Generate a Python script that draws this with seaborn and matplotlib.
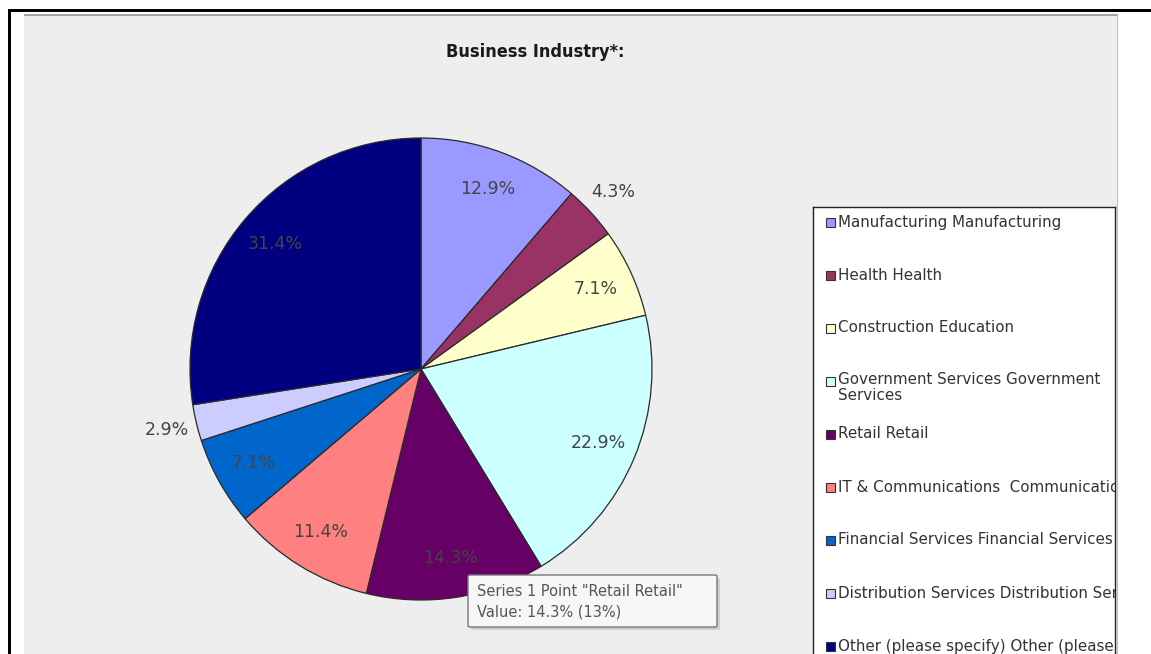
import numpy as np
import matplotlib
matplotlib.use("Agg")
import matplotlib.pyplot as plt
from matplotlib.patches import Rectangle, FancyBboxPatch
import seaborn as sns

# Survey answers, in the order the slices run clockwise from 12 o'clock
categories = [
    "Manufacturing Manufacturing",
    "Health Health",
    "Construction Education",
    "Government Services Government\nServices",
    "Retail Retail",
    "IT & Communications  Communications",
    "Financial Services Financial Services",
    "Distribution Services Distribution Services",
    "Other (please specify) Other (please specify)",
]
percent_values = [12.9, 4.3, 7.1, 22.9, 14.3, 11.4, 7.1, 2.9, 31.4]
slice_colors = ["#9999FF", "#993366", "#FFFFCC", "#CCFFFF", "#660066",
                "#FF8080", "#0066CC", "#CCCCFF", "#000080"]
title_text = "Business Industry*:"
tooltip_lines = ['Series 1 Point "Retail Retail"', "Value: 14.3% (13%)"]

sns.set_theme(style="white")
plt.rcParams["font.family"] = ["DejaVu Sans"]

W, H = 1151, 654
fig = plt.figure(figsize=(W / 100, H / 100), dpi=100)
fig.patch.set_facecolor("white")


def fx(x):
    return x / W


def fy(y):
    return 1 - y / H


# outer frame lines (top and left)
fig.add_artist(Rectangle((fx(8), fy(12)), fx(W - 8), 3 / H, transform=fig.transFigure,
                         facecolor="black", edgecolor="none", zorder=-3))
fig.add_artist(Rectangle((fx(8), 0), 2.5 / W, fy(12), transform=fig.transFigure,
                         facecolor="black", edgecolor="none", zorder=-3))

# grey chart panel
fig.add_artist(Rectangle((fx(24), 0), fx(1118 - 24), fy(14), transform=fig.transFigure,
                         facecolor="#EEEEEE", edgecolor="none", zorder=-2))
fig.add_artist(Rectangle((fx(24), fy(16)), fx(1118 - 24), 2 / H, transform=fig.transFigure,
                         facecolor="#9AA9A3", edgecolor="none", zorder=-1))
fig.add_artist(Rectangle((fx(1117), 0), 1.2 / W, fy(14), transform=fig.transFigure,
                         facecolor="#A9C4CC", edgecolor="none", zorder=-1))

fig.text(fx(535), fy(52), title_text, ha="center", va="center", fontsize=13,
         fontweight="bold", fontstretch="condensed", color="#1a1a1a")

# pie
cx, cy, R = 421, 369, 231
half = 1.2 * R
ax = fig.add_axes([fx(cx - half), fy(cy + half), 2 * half / W, 2 * half / H])
ax.set_facecolor("none")
wedges, _ = ax.pie(percent_values, colors=slice_colors, startangle=90, counterclock=False,
                   radius=1.0,
                   wedgeprops=dict(edgecolor="#2a2a2a", linewidth=0.9))
ax.set_xlim(-1.2, 1.2)
ax.set_ylim(-1.2, 1.2)
ax.set_aspect("equal")
ax.axis("off")

for w, v in zip(wedges, percent_values):
    mid = np.deg2rad((w.theta1 + w.theta2) / 2)
    r = 1.13 if v < 5 else 0.83
    ax.text(r * np.cos(mid), r * np.sin(mid), f"{v:.1f}%", ha="center", va="center",
            fontsize=12.5, color="#444444", zorder=5)

# legend box, cut off by the panel edge on the right
lx0, ly0, lx1, ly1 = 813, 207, 1115, 654
lax = fig.add_axes([fx(lx0), fy(ly1), (lx1 - lx0) / W, (ly1 - ly0) / H])
lax.set_xlim(lx0, lx1)
lax.set_ylim(ly1, ly0)
lax.set_facecolor("white")
lax.set_xticks([])
lax.set_yticks([])
for side in ["left", "top", "right"]:
    lax.spines[side].set_visible(True)
    lax.spines[side].set_color("#222222")
    lax.spines[side].set_linewidth(1.0)
lax.spines["bottom"].set_visible(False)

for i, (name, col) in enumerate(zip(categories, slice_colors)):
    y = 222 + 53 * i
    lax.add_patch(Rectangle((825.5, y - 4.5), 9, 9, facecolor=col, edgecolor="#333333",
                            linewidth=0.8))
    if "\n" in name:
        t = lax.text(838, y - 9, name, ha="left", va="top", fontsize=10.9,
                     color="#333333", linespacing=1.12)
    else:
        t = lax.text(838, y, name, ha="left", va="center", fontsize=10.9,
                     color="#333333")
    t.set_clip_on(True)
    t.set_clip_box(lax.bbox)

# tooltip
tx0, ty0, tx1, ty1 = 468, 575, 717, 627
fig.add_artist(FancyBboxPatch((fx(tx0 + 3), fy(ty1 + 3)), fx(tx1 - tx0), (ty1 - ty0) / H,
                              boxstyle="round,pad=0,rounding_size=0.002",
                              transform=fig.transFigure, facecolor="#BBBBBB",
                              edgecolor="none", alpha=0.6, zorder=9))
fig.add_artist(FancyBboxPatch((fx(tx0), fy(ty1)), fx(tx1 - tx0), (ty1 - ty0) / H,
                              boxstyle="round,pad=0,rounding_size=0.002",
                              transform=fig.transFigure, facecolor="#F7F7FA",
                              edgecolor="#767676", linewidth=1.0, zorder=10))
fig.text(fx(477), fy(591), tooltip_lines[0], ha="left", va="center", fontsize=10.5,
         color="#555555", zorder=11)
fig.text(fx(477), fy(612), tooltip_lines[1], ha="left", va="center", fontsize=10.5,
         color="#555555", zorder=11)

fig.savefig("out.png", dpi=100, facecolor="white")
